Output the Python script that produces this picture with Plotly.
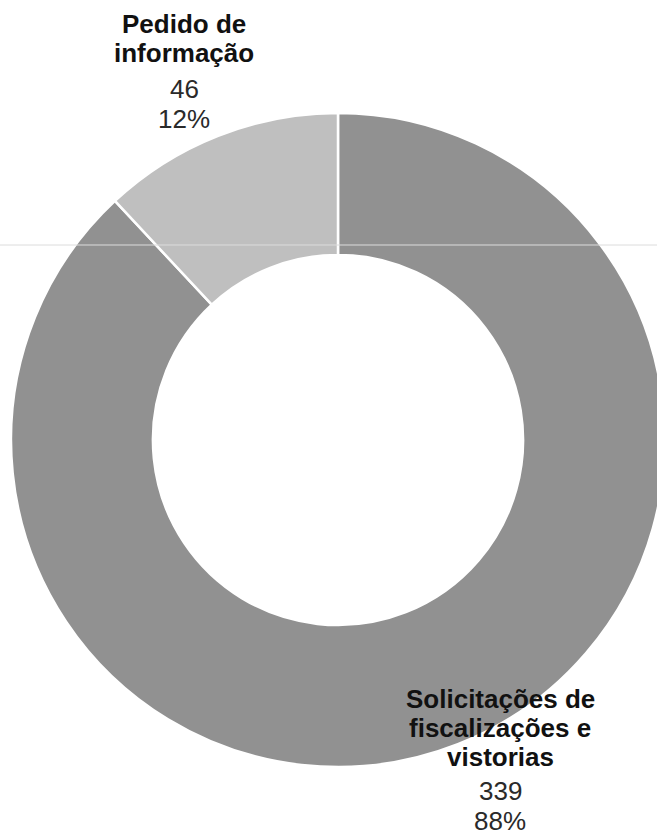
import plotly.graph_objects as go

# ---- data ----
categories = ["Solicitações de fiscalizações e vistorias", "Pedido de informação"]
category_lines = [["Solicitações de", "fiscalizações e", "vistorias"], ["Pedido de", "informação"]]
values = [339, 46]
colors = ["#919191", "#bfbfbf"]

# ---- layout constants (pixels) ----
W, H = 670, 836
cx, cy, R = 338, 440, 327
hole = 0.566

def px(x):
    return x / W

def py(y):
    return 1 - y / H

fig = go.Figure(go.Pie(
    labels=categories,
    values=values,
    sort=False,
    direction="clockwise",
    rotation=0,
    hole=hole,
    textinfo="none",
    hoverinfo="label+value+percent",
    marker=dict(colors=colors, line=dict(color="white", width=2.5)),
    domain=dict(x=[px(cx - R), px(cx + R)], y=[py(cy + R), py(cy - R)]),
    showlegend=False,
))

total = sum(values)
# label block settings: (center x, y centers of bold lines, y centers of number lines)
label_pos = [
    (500, [699, 728, 757], [791, 821]),
    (184, [24, 53], [89, 119]),
]
font_family = "Liberation Sans, Arial, sans-serif"
annotations = []
for i, (lx, ys_bold, ys_num) in enumerate(label_pos):
    for line, yy in zip(category_lines[i], ys_bold):
        annotations.append(dict(
            x=px(lx), y=py(yy), xref="paper", yref="paper",
            text=f"<b>{line}</b>", showarrow=False,
            xanchor="center", yanchor="middle",
            font=dict(family=font_family, size=26, color="#111111"),
        ))
    pct = round(values[i] / total * 100)
    for txt, yy in zip([f"{values[i]}", f"{pct}%"], ys_num):
        annotations.append(dict(
            x=px(lx), y=py(yy), xref="paper", yref="paper",
            text=txt, showarrow=False,
            xanchor="center", yanchor="middle",
            font=dict(family=font_family, size=26, color="#2a2a2a"),
        ))

fig.update_layout(
    width=W, height=H,
    margin=dict(l=0, r=0, t=0, b=0),
    paper_bgcolor="white",
    plot_bgcolor="white",
    annotations=annotations,
    shapes=[dict(type="line", xref="paper", yref="paper",
                 x0=0, x1=1, y0=py(245), y1=py(245),
                 line=dict(color="#dcdcdc", width=1), layer="above")],
)

fig.write_html(
    "out.html",
    config={"displayModeBar": False},
    post_script="document.body.style.margin='0';document.body.style.overflow='hidden';",
)
